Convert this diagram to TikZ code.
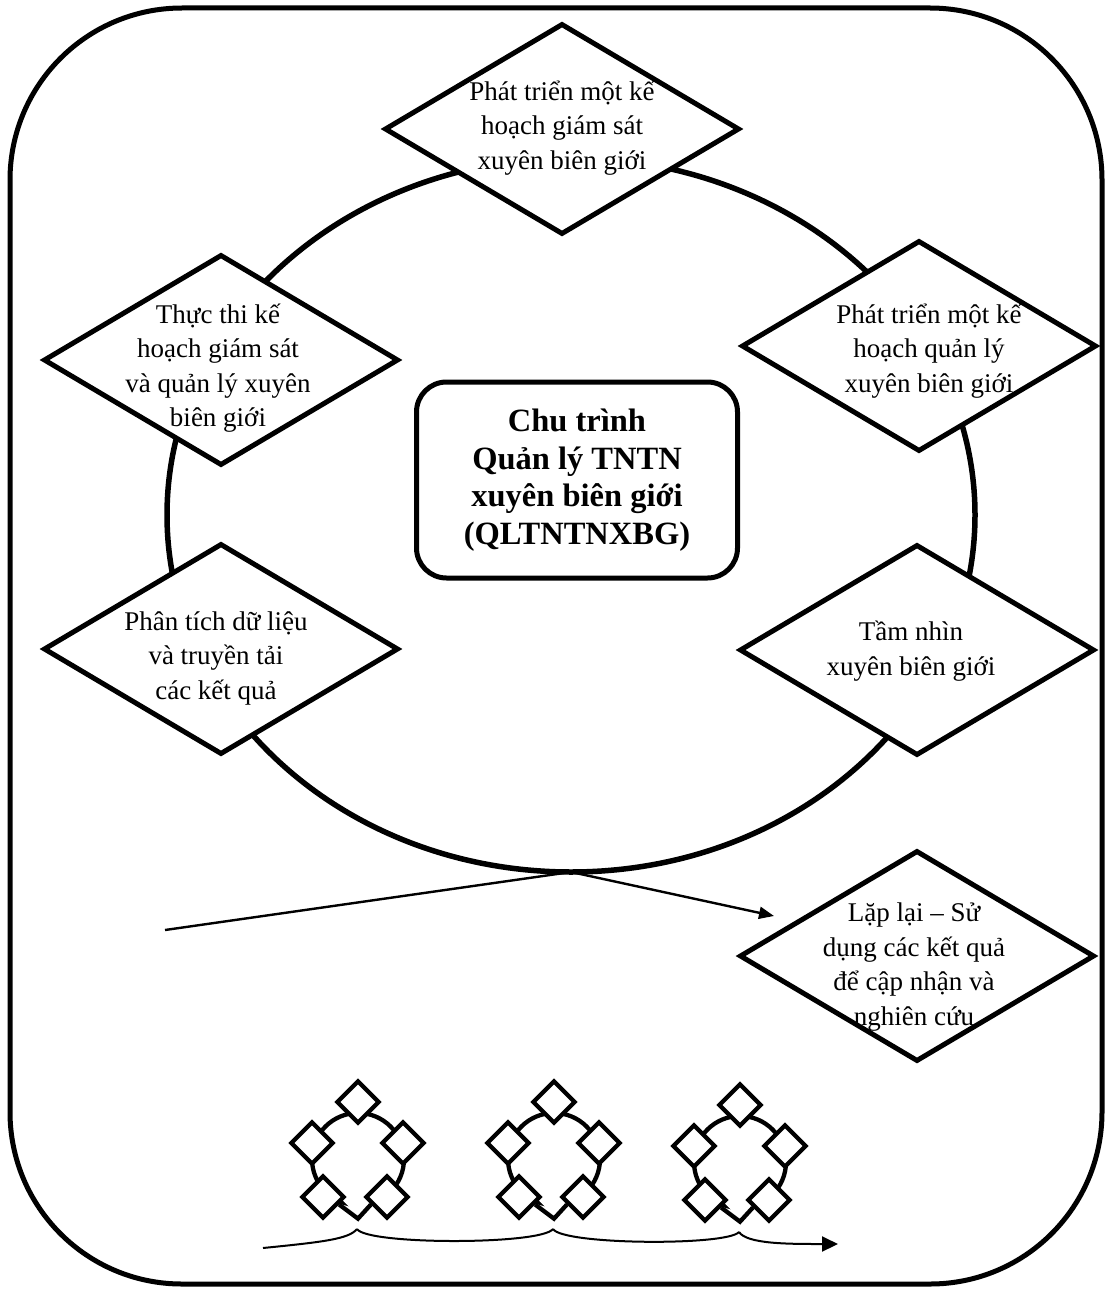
\documentclass[tikz,border=0pt]{standalone}
\usepackage{fontspec}
\setmainfont{Liberation Serif}
\usetikzlibrary{shapes.geometric,arrows.meta}

\begin{document}
\begin{tikzpicture}[x=1pt,y=-1pt,
			frameOutline/.style={draw, line width=5pt, rounded corners=172pt},
			stepDia/.style={shape=diamond, draw, fill=white, line width=5pt, minimum width=355pt, minimum height=211pt, inner sep=0pt},
			stepText/.style={align=center, inner sep=0pt, font=\fontsize{27}{34.5}\selectfont},
			hubBox/.style={shape=rectangle, draw, fill=white, line width=5pt, rounded corners=30pt, minimum width=321pt, minimum height=196pt, align=center, inner sep=0pt, font=\bfseries\fontsize{32.5}{37.5}\selectfont},
			ringOutline/.style={shape=ellipse, draw, line width=5.5pt, minimum width=808pt, minimum height=714pt, inner sep=0pt, outer sep=0pt},
			miniRing/.style={shape=circle, draw, line width=4.3pt, minimum size=92pt, inner sep=0pt},
			miniDia/.style={shape=diamond, draw, fill=white, line width=4.3pt, minimum size=43pt, inner sep=0pt},
			leadLine/.style={line width=2.4pt, -{Triangle[length=15pt,width=12pt]}},
			trailLine/.style={line width=2pt}]
	\useasboundingbox (0,0) rectangle (1107,1292);
	\draw[frameOutline] (10,8) rectangle (1102,1284);

	\node[ringOutline] (ring) at (571,515) {};
	\node[hubBox] (hub) at (577,480) {Chu trình\\Quản lý TNTN\\xuyên biên giới\\(QLTNTNXBG)};

	\node[stepDia] (planMon) at (562,129) {};
	\node[stepDia] (planMan) at (919,346) {};
	\node[stepDia] (execute) at (221,360) {};
	\node[stepDia] (analyse) at (221,649) {};
	\node[stepDia] (vision) at (917,650) {};
	\node[stepDia] (repeat) at (917,956) {};

	\node[stepText] (planMonTxt) at (562,128) {Phát triển một kế\\hoạch giám sát\\xuyên biên giới};
	\node[stepText] (planManTxt) at (929,351) {Phát triển một kế\\hoạch quản lý\\xuyên biên giới};
	\node[stepText] (executeTxt) at (218,368) {Thực thi kế\\hoạch giám sát\\và quản lý xuyên\\biên giới};
	\node[stepText] (analyseTxt) at (216,658) {Phân tích dữ liệu\\và truyền tải\\các kết quả};
	\node[stepText] (visionTxt) at (911,651) {Tầm nhìn\\xuyên biên giới};
	\node[stepText] (repeatTxt) at (914,967) {Lặp lại – Sử\\dụng các kết quả\\để cập nhận và\\nghiên cứu};

	\coordinate (leadIn) at (165,930);
	\coordinate (leadOut) at (774,916);
	\draw[leadLine] (leadIn) -- (ring.south) -- (leadOut);

	\foreach \n/\dx/\dy in {1/0/0, 2/196/0, 3/382/3}{
		\begin{scope}[shift={(\dx,\dy)}]
			\node[miniRing] (miniRing\n) at (358,1159) {};
			\node[miniDia, draw=none] (miniHid\n) at (358,1195) {};
			\node[miniDia] (miniTop\n) at (358,1102) {};
			\node[miniDia] (miniLeft\n) at (312,1143) {};
			\node[miniDia] (miniRight\n) at (403,1143) {};
			\node[miniDia] (miniBl\n) at (323,1197) {};
			\node[miniDia] (miniBr\n) at (387,1197) {};
			\draw[line width=4.3pt] (miniBl\n.-25) -- (miniHid\n.south) -- (miniBr\n.205);
			\coordinate (tick\n) at (357,1229);
		\end{scope}
	}

	\coordinate (trailIn) at (263,1248);
	\coordinate (trailOut) at (838,1244);
	\draw[trailLine] (trailIn) .. controls +(60,-6) and +(-8,10) .. (tick1);
	\draw[trailLine] (tick1) .. controls +(10,16) and +(-12,16) .. (tick2);
	\draw[trailLine] (tick2) .. controls +(10,16) and +(-12,14) .. (tick3);
	\draw[trailLine, -{Triangle[length=16pt,width=15pt]}] (tick3) .. controls +(8,12) and +(-50,0) .. (trailOut);
\end{tikzpicture}
\end{document}
